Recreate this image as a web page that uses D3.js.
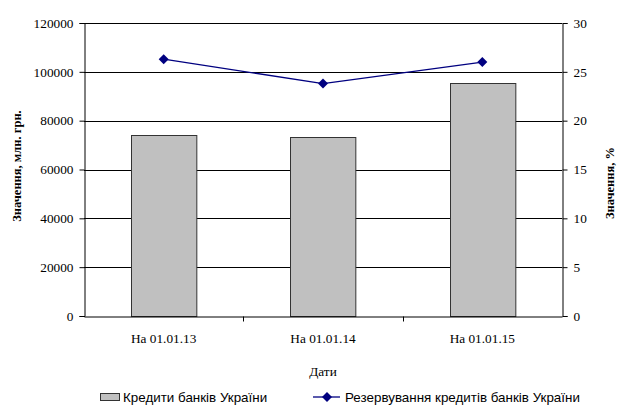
<!DOCTYPE html>
<html><head><meta charset="utf-8">
<script src="https://cdn.jsdelivr.net/npm/d3@7"></script>
<style>body{margin:0;background:#fff}svg{display:block}
.serif{font-family:"Liberation Serif","Times New Roman",serif}
.sans{font-family:"Liberation Sans",Arial,sans-serif}
</style>
</head><body>
<svg id="c" width="617" height="406"></svg>
<script>
const categories = ["На 01.01.13", "На 01.01.14", "На 01.01.15"];
const credits = [74300, 73300, 95300];
const reserves = [26.3, 23.8, 26.0];
const leftTicks = [0, 20000, 40000, 60000, 80000, 100000, 120000];
const rightTicks = [0, 5, 10, 15, 20, 25, 30];
const seriesNames = ["Кредити банків України", "Резервування кредитів банків України"];
const xTitle = "Дати";
const yLeftTitle = "Значення, млн. грн.";
const yRightTitle = "Значення, %";

const svg = d3.select("#c");
const L = 84, R = 562, T = 23, B = 316;

const x = d3.scaleBand().domain(categories).range([L, R]).paddingInner(0.59).paddingOuter(0.295);
const xb = d3.scaleBand().domain(categories).range([L, R]);
const yL = d3.scaleLinear().domain([0, 120000]).range([B, T]);
const yR = d3.scaleLinear().domain([0, 30]).range([B, T]);

// gridlines
svg.append("g").selectAll("line").data(leftTicks.slice(1)).join("line")
  .attr("x1", L).attr("x2", R)
  .attr("y1", d => Math.round(yL(d)) + 0.5).attr("y2", d => Math.round(yL(d)) + 0.5)
  .attr("stroke", "#000").attr("stroke-width", 1);

// bars
svg.append("g").selectAll("rect").data(credits).join("rect")
  .attr("x", (d, i) => Math.round(x(categories[i])) + 0.5)
  .attr("y", d => Math.round(yL(d)) + 0.5)
  .attr("width", x.bandwidth())
  .attr("height", d => B - Math.round(yL(d)))
  .attr("fill", "#c0c0c0").attr("stroke", "#333").attr("stroke-width", 1);

// left axis
const gl = svg.append("g").attr("transform", `translate(${L + 0.5},0)`)
  .call(d3.axisLeft(yL).tickValues(leftTicks).tickFormat(d3.format("d")).tickSizeOuter(0).tickSize(5).tickPadding(6));
// right axis
const gr = svg.append("g").attr("transform", `translate(${R + 0.5},0)`)
  .call(d3.axisRight(yR).tickValues(rightTicks).tickFormat(d3.format("d")).tickSizeOuter(0).tickSize(5).tickPadding(6));
// bottom axis
const gb = svg.append("g").attr("transform", `translate(0,${B + 0.5})`)
  .call(d3.axisBottom(xb).tickSize(0).tickSizeOuter(0).tickPadding(17));
gb.selectAll(".tick line").remove();
gb.append("g").selectAll("line").data(categories.slice(1)).join("line")
  .attr("x1", d => Math.round(xb(d)) + 0.5).attr("x2", d => Math.round(xb(d)) + 0.5)
  .attr("y1", 0).attr("y2", 5).attr("stroke", "#000");

[gl, gr, gb].forEach(g => {
  g.attr("font-family", null).attr("font-size", null).attr("class", "serif");
  g.selectAll("text").style("font-size", "13.3px").attr("fill", "#000");
  g.selectAll("line,path").attr("stroke", "#000");
});

// line series
const pts = reserves.map((v, i) => [x(categories[i]) + x.bandwidth() / 2, yR(v)]);
svg.append("path").datum(pts).attr("d", d3.line())
  .attr("fill", "none").attr("stroke", "#000080").attr("stroke-width", 1.3);
const diamond = d3.symbol().type(d3.symbolSquare).size(50);
svg.append("g").selectAll("path").data(pts).join("path")
  .attr("transform", d => `translate(${d[0]},${d[1]}) rotate(45)`)
  .attr("d", diamond).attr("fill", "#000080");

// titles
svg.append("text").attr("class", "serif").attr("x", (L + R) / 2).attr("y", 376).attr("text-anchor", "middle")
  .style("font-size", "13.3px").text(xTitle);
svg.append("text").attr("class", "serif").attr("transform", "translate(21,166) rotate(-90)").attr("text-anchor", "middle")
  .style("font-size", "12.5px").style("font-weight", "bold").text(yLeftTitle);
svg.append("text").attr("class", "serif").attr("transform", "translate(614,183) rotate(-90)").attr("text-anchor", "middle")
  .style("font-size", "12.5px").style("font-weight", "bold").text(yRightTitle);

// legend
const lg = svg.append("g");
lg.append("rect").attr("x", 100.5).attr("y", 393.5).attr("width", 19).attr("height", 7)
  .attr("fill", "#c0c0c0").attr("stroke", "#333");
lg.append("text").attr("class", "sans").attr("x", 123).attr("y", 402).style("font-size", "13.4px").text(seriesNames[0]);
lg.append("line").attr("x1", 313).attr("x2", 340).attr("y1", 397).attr("y2", 397)
  .attr("stroke", "#000080").attr("stroke-width", 1.3);
lg.append("path").attr("transform", "translate(327,397) rotate(45)").attr("d", diamond).attr("fill", "#000080");
lg.append("text").attr("class", "sans").attr("x", 345).attr("y", 402).style("font-size", "13.4px").text(seriesNames[1]);
</script>
</body></html>
